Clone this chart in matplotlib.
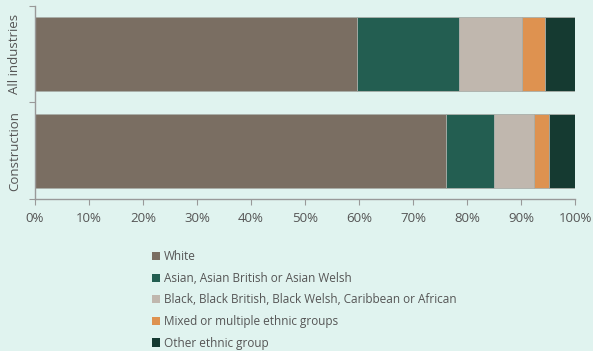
import matplotlib.pyplot as plt
from matplotlib.patches import Patch

industries = ['All industries', 'Construction']
groups = ['White',
          'Asian, Asian British or Asian Welsh',
          'Black, Black British, Black Welsh, Caribbean or African',
          'Mixed or multiple ethnic groups',
          'Other ethnic group']
white = [59.6, 76.1]
asian = [18.8, 8.9]
black = [11.8, 7.4]
mixed = [4.3, 2.8]
other = [5.5, 4.8]
colors = ['#7a6e62', '#235e51', '#c0b7ae', '#de9250', '#153a31']

plt.rcParams['font.family'] = ['Open Sans', 'DejaVu Sans']
bg = '#e0f3ef'
txt = '#555555'

fig = plt.figure(figsize=(5.93, 3.51), dpi=100, facecolor=bg)
ax = fig.add_axes([0.059, 0.433, 0.911, 0.550])
ax.set_facecolor(bg)

ypos = list(range(len(industries)))
left = [0.0] * len(industries)
for vals, col in zip([white, asian, black, mixed, other], colors):
    ax.barh(ypos, vals, left=left, height=0.765, color=col,
            edgecolor='#a9aea9', linewidth=0.6)
    left = [l + v for l, v in zip(left, vals)]

ax.set_xlim(0, 100)
ax.set_ylim(1.5, -0.5)
ax.set_xticks(range(0, 101, 10))
ax.set_xticklabels([f'{x}%' for x in range(0, 101, 10)])
ax.set_yticks([-0.5, 0.5, 1.5])
ax.set_yticklabels([])
ax.set_yticks(ypos, minor=True)
ax.set_yticklabels(industries, minor=True, rotation=90, va='center')
ax.tick_params(axis='y', which='minor', length=0, pad=10, labelsize=9.5, labelcolor=txt)
ax.tick_params(axis='y', which='major', length=4, color='#999999')
ax.tick_params(axis='x', length=4, color='#999999', labelsize=9.5, labelcolor=txt, pad=5)
for s in ['top', 'right']:
    ax.spines[s].set_visible(False)
for s in ['left', 'bottom']:
    ax.spines[s].set_color('#999999')
    ax.spines[s].set_linewidth(1.0)

handles = [Patch(facecolor=c, edgecolor='none') for c in colors]
fig.legend(handles, groups, loc='upper left', bbox_to_anchor=(0.256, 0.287),
           frameon=False, fontsize=8.5, handlelength=0.7, handleheight=0.7,
           handletextpad=0.3, labelspacing=0.73, labelcolor=txt,
           borderaxespad=0, borderpad=0)

fig.savefig('out.png', dpi=100, facecolor=bg)
